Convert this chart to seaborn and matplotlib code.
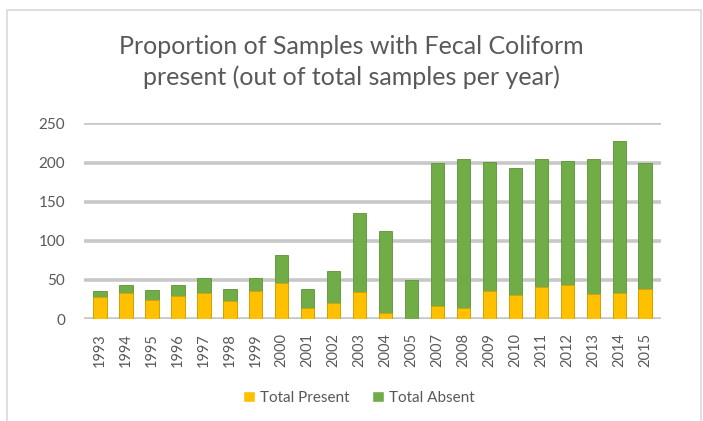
import matplotlib

matplotlib.use("Agg")
import matplotlib.pyplot as plt
import numpy as np
import pandas as pd
import seaborn as sns
from matplotlib.patches import Patch, Rectangle

years = ["1993", "1994", "1995", "1996", "1997", "1998", "1999", "2000",
         "2001", "2002", "2003", "2004", "2005", "2007", "2008", "2009",
         "2010", "2011", "2012", "2013", "2014", "2015"]
total_present = [28, 33, 25, 29, 33, 23, 36, 46, 14, 20, 34, 8, 0, 17, 14,
                 36, 31, 41, 43, 32, 33, 39]
total_absent = [8, 11, 12, 15, 19, 16, 17, 36, 25, 41, 101, 105, 50, 183,
                191, 165, 162, 163, 159, 173, 195, 161]

df = pd.DataFrame({"year": years, "present": total_present, "absent": total_absent})
df["total"] = df["present"] + df["absent"]

YELLOW = "#FFC000"
GREEN = "#70AD47"
TEXT = "#595959"

sns.set_style("white")
plt.rcParams["font.family"] = ["Lato", "DejaVu Sans"]

fig = plt.figure(figsize=(7.03, 4.21), dpi=100)
ax = fig.add_axes([0.12, 0.242, 0.82, 0.465])

sns.barplot(data=df, x="year", y="total", color=GREEN, width=0.52,
            saturation=1, ax=ax, edgecolor="#5E9239", linewidth=0.6)
sns.barplot(data=df, x="year", y="present", color=YELLOW, width=0.52,
            saturation=1, ax=ax, edgecolor="#D9A000", linewidth=0.6)

ax.set_ylim(0, 250)
ax.set_yticks(np.arange(0, 251, 50))
ax.set_xlim(-0.6, len(years) - 0.4)
ax.yaxis.grid(True, color="#C8C8C8", linewidth=2.6)
ax.set_axisbelow(True)
for s in ax.spines.values():
    s.set_visible(False)
ax.set_xlabel("")
ax.set_ylabel("")
ax.tick_params(axis="y", labelsize=11, colors=TEXT, length=0, pad=14)
ax.tick_params(axis="x", labelsize=10.5, colors=TEXT, length=0, pad=10,
               rotation=90)

fig.text(0.5, 0.918, "Proportion of Samples with Fecal Coliform\n"
         "present (out of total samples per year)",
         ha="center", va="top", fontsize=18, color=TEXT, linespacing=1.38)

handles = [Patch(facecolor=YELLOW, label="Total Present"),
           Patch(facecolor=GREEN, label="Total Absent")]
fig.legend(handles=handles, loc="center", bbox_to_anchor=(0.51, 0.055),
           ncol=2, frameon=False, fontsize=11, labelcolor=TEXT,
           handlelength=0.8, handleheight=0.8, handletextpad=0.3,
           columnspacing=1.5)

fig.patches.append(Rectangle((0.01, -0.1), 0.987, 1.076, transform=fig.transFigure,
                             fill=False, edgecolor="#D9D9D9", linewidth=1.2))

fig.savefig("out.png", dpi=100)
